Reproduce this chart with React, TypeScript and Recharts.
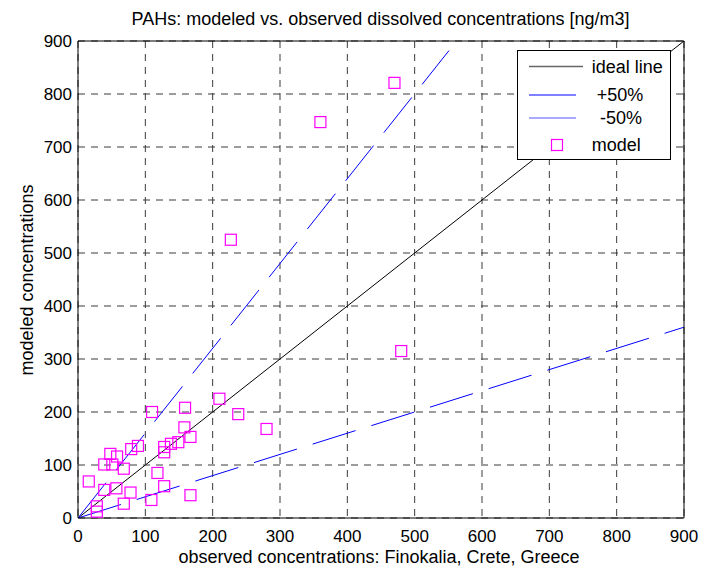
import React from 'react';
import { ComposedChart, Line, Scatter, XAxis, YAxis, CartesianGrid, Label } from 'recharts';

// ---- data ----
const observedX = [110, 210, 159, 238, 280, 158, 167, 149, 138, 128, 128, 89, 79, 48, 58, 39, 51, 68, 118, 16, 128, 39, 57, 78, 109, 167, 68, 28, 28, 470, 360, 227, 480];
const modeledY = [200, 225, 208, 196, 168, 171, 153, 143, 140, 134, 124, 136, 130, 121, 116, 101, 101, 93, 85, 69, 60, 53, 56, 48, 34, 43, 27, 22, 12, 821, 747, 525, 315];

const idealX = [0, 900];
const idealY = [0, 900];
const plusX = [0, 551];
const plusY = [0, 882];
const minusX = [0, 900];
const minusY = [0, 360];

const axisTicks = [0, 100, 200, 300, 400, 500, 600, 700, 800, 900];

const title = 'PAHs: modeled vs. observed dissolved concentrations [ng/m3]';
const xLabel = 'observed concentrations: Finokalia, Crete, Greece';
const yLabel = 'modeled concentrations';
const legendNames = ['ideal line', '+50%', '-50%', 'model'];

// ---- built tables ----
const modelPts = observedX.map((x, i) => ({ x, y: modeledY[i] }));
const idealPts = idealX.map((x, i) => ({ x, y: idealY[i] }));
const plusPts = plusX.map((x, i) => ({ x, y: plusY[i] }));
const minusPts = minusX.map((x, i) => ({ x, y: minusY[i] }));

const FONT = '"Liberation Sans", Arial, Helvetica, sans-serif';
const MAG = '#ff00ff';

const Square = (props: any) => {
  const { cx, cy } = props;
  if (cx == null || cy == null) return null;
  return <rect x={cx - 5.5} y={cy - 5.5} width={11} height={11} fill="none" stroke={MAG} strokeWidth={1.2} />;
};

const XLab = (props: any) => (
  <text x={379} y={563} textAnchor="middle" fontSize={18} fontFamily={FONT} fill="#000">{xLabel}</text>
);

const YLab = (props: any) => (
  <text x={33} y={280} transform="rotate(-90, 33, 280)" textAnchor="middle" fontSize={18} fontFamily={FONT} fill="#000">{yLabel}</text>
);

export default function App() {
  return (
    <div style={{ position: 'absolute', left: 0, top: 0, width: 701, height: 570, background: '#fff' }}>
      <ComposedChart width={701} height={570} margin={{ top: 41, right: 17, bottom: 0, left: 0 }} style={{ fontFamily: FONT }}>
        <CartesianGrid stroke="#3a3a3a" strokeDasharray="7 6" strokeWidth={1} />
        <XAxis
          type="number"
          dataKey="x"
          domain={[0, 900]}
          ticks={axisTicks}
          height={52}
          tickLine={false}
          tickSize={0}
          tickMargin={12}
          axisLine={{ stroke: '#000' }}
          tick={{ fontSize: 17, fill: '#000', fontFamily: FONT }}
          allowDataOverflow
        >
          <Label content={XLab} />
        </XAxis>
        <XAxis xAxisId="bin" type="number" dataKey="x" domain={[0, 900]} ticks={axisTicks} orientation="bottom" mirror tick={false} tickSize={6} tickLine={{ stroke: '#000' }} axisLine={false} allowDataOverflow />
        <XAxis xAxisId="top" type="number" dataKey="x" domain={[0, 900]} ticks={axisTicks} orientation="top" mirror tick={false} tickSize={6} tickLine={{ stroke: '#000' }} axisLine={{ stroke: '#000' }} allowDataOverflow />
        <YAxis
          type="number"
          dataKey="y"
          domain={[0, 900]}
          ticks={axisTicks}
          width={78}
          tickLine={false}
          tickSize={0}
          tickMargin={6}
          axisLine={{ stroke: '#000' }}
          tick={{ fontSize: 17, fill: '#000', fontFamily: FONT }}
          allowDataOverflow
        >
          <Label content={YLab} />
        </YAxis>
        <YAxis yAxisId="lin" type="number" dataKey="y" domain={[0, 900]} ticks={axisTicks} orientation="left" mirror tick={false} tickSize={6} tickLine={{ stroke: '#000' }} axisLine={false} allowDataOverflow />
        <YAxis yAxisId="right" type="number" dataKey="y" domain={[0, 900]} ticks={axisTicks} orientation="right" mirror tick={false} tickSize={6} tickLine={{ stroke: '#000' }} axisLine={{ stroke: '#000' }} allowDataOverflow />

        <Line data={idealPts} dataKey="y" type="linear" stroke="#000" strokeWidth={1} dot={false} isAnimationActive={false} legendType="none" />
        <Line data={plusPts} dataKey="y" type="linear" stroke="#0000ff" strokeWidth={1} strokeDasharray="45 16.5" dot={false} isAnimationActive={false} legendType="none" />
        <Line data={minusPts} dataKey="y" type="linear" stroke="#0000ff" strokeWidth={1} strokeDasharray="45 16.5" dot={false} isAnimationActive={false} legendType="none" />
        <Scatter data={modelPts} dataKey="y" shape={Square} isAnimationActive={false} legendType="none" />
      </ComposedChart>

      <svg width={701} height={570} style={{ position: 'absolute', left: 0, top: 0, pointerEvents: 'none' }}>
        <text x={380.5} y={24.5} textAnchor="middle" fontSize={18} fontFamily={FONT} fill="#000">{title}</text>
        <g fontFamily={FONT} fontSize={18} fill="#000">
          <rect x={517.5} y={50.5} width={153} height={109} fill="#fff" stroke="#000" strokeWidth={1} />
          <line x1={529} x2={583} y1={66.5} y2={66.5} stroke="#666" strokeWidth={1.5} />
          <text x={591.7} y={66.7} dominantBaseline="central">{legendNames[0]}</text>
          <line x1={529} x2={576} y1={95} y2={95} stroke="#0000ff" strokeWidth={1} />
          <text x={596.7} y={95} dominantBaseline="central">{legendNames[1]}</text>
          <line x1={529} x2={576} y1={118} y2={118} stroke="#5555ff" strokeWidth={1} />
          <text x={600} y={118} dominantBaseline="central">{legendNames[2]}</text>
          <rect x={551.5} y={139.5} width={11} height={11} fill="none" stroke={MAG} strokeWidth={1.2} />
          <text x={591.7} y={145} dominantBaseline="central">{legendNames[3]}</text>
        </g>
      </svg>
    </div>
  );
}
